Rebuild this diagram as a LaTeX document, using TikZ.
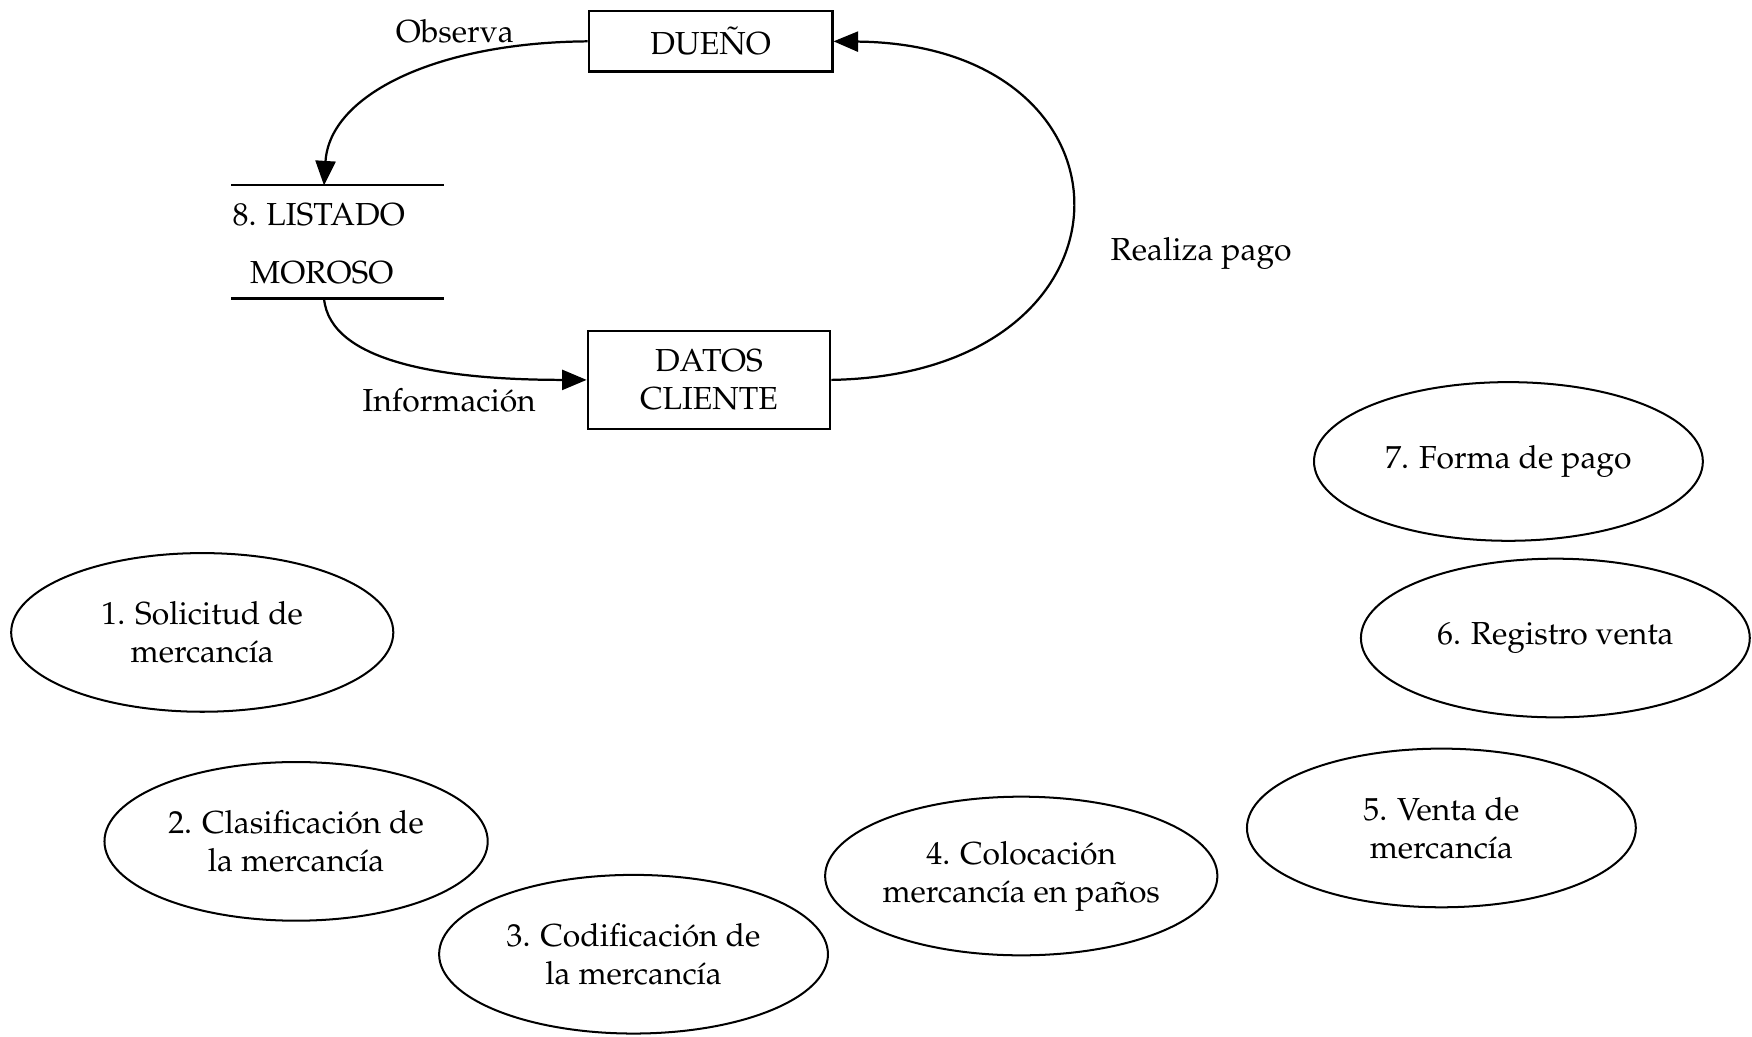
\documentclass[tikz,border=0pt]{standalone}
\usepackage[T1]{fontenc}
\usepackage{mathpazo}
\usetikzlibrary{shapes.geometric,arrows.meta}
\begin{document}
\begin{tikzpicture}[x=1pt,y=-1pt,
  every node/.style={font=\fontsize{28.5}{34}\selectfont},
  box/.style={draw,line width=2pt,rectangle,inner sep=0pt,align=center},
  proc/.style={draw,ellipse,line width=1.8pt,minimum width=348pt,minimum height=142pt,inner sep=0pt,align=center},
  flow/.style={line width=2pt,-{Triangle[length=22pt,width=18pt]}},
  lbl/.style={inner sep=0pt,anchor=base}]
\useasboundingbox (0,0) rectangle (1568,928);
% boxes
\node[box,minimum width=218pt,minimum height=54pt] (dueno) at (636,37) {DUE\~NO};
\node[box,minimum width=217pt,minimum height=88pt] (datos) at (634.5,340) {DATOS\\CLIENTE};
% data store
\node[minimum width=190pt,minimum height=101pt,inner sep=0pt] (listado) at (302,216.5) {};
\draw[line width=2pt] (listado.north west) -- (listado.north east)
  (listado.south west) -- (listado.south east);
\node[inner sep=0pt,anchor=base west] (l1) at (208,202) {8. LISTADO};
\node[lbl] (l2) at (288,254) {MOROSO};
\coordinate (obsend) at (290,166);
\coordinate (infostart) at (290,267);
% labels
\node[lbl] (obs) at (407,38) {Observa};
\node[lbl] (info) at (402,368) {Informaci\'on};
\node[lbl] (rp) at (1075,233) {Realiza pago};
% connectors
\draw[flow] (dueno.west) .. controls (390,38) and (295,85) .. (obsend);
\draw[flow] (infostart) .. controls (295,325) and (400,340) .. (datos.west);
\draw[flow] (datos.east) .. controls (1030,335) and (1030,40) .. (dueno.east);
% processes
\node[proc] (p7) at (1350,413) {7. Forma de pago};
\node[proc] (p6) at (1392,571) {6. Registro venta};
\node[proc] (p5) at (1290,741) {5. Venta de\\mercanc\'{\i}a};
\node[proc] (p4) at (914,784) {4. Colocaci\'on\\mercanc\'{\i}a en pa\~nos};
\node[proc] (p3) at (567,854) {3. Codificaci\'on de\\la mercanc\'{\i}a};
\node[proc,minimum width=343pt] (p2) at (265,753) {2. Clasificaci\'on de\\la mercanc\'{\i}a};
\node[proc,minimum width=342pt] (p1) at (181,566) {1. Solicitud de\\mercanc\'{\i}a};
\end{tikzpicture}
\end{document}
